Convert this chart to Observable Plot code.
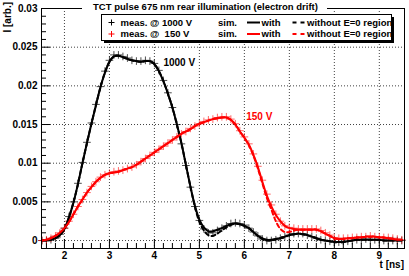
<!DOCTYPE html>
<html>
<head>
<meta charset="utf-8">
<script src="https://cdn.jsdelivr.net/npm/d3@7"></script>
<script src="https://cdn.jsdelivr.net/npm/@observablehq/plot@0.6"></script>
<style>
  html, body { margin: 0; padding: 0; background: #fff; }
  #chart { width: 409px; height: 276px; }
  svg text { font-family: "Liberation Sans", Arial, Helvetica, sans-serif; font-weight: bold; }
</style>
</head>
<body>
<div id="chart"></div>
<script>
// ---- data ----
const tNs = [1.5,1.6,1.7,1.8,1.9,2.0,2.1,2.2,2.3,2.4,2.5,2.6,2.7,2.8,2.9,3.0,3.1,3.2,3.3,3.4,3.5,3.6,3.7,3.8,3.9,4.0,4.1,4.2,4.3,4.4,4.5,4.6,4.7,4.8,4.9,5.0,5.1,5.2,5.3,5.4,5.5,5.6,5.7,5.8,5.9,6.0,6.1,6.2,6.3,6.4,6.5,6.6,6.7,6.8,6.9,7.0,7.1,7.2,7.3,7.4,7.5,7.6,7.7,7.8,7.9,8.0,8.1,8.2,8.3,8.4,8.5,8.6,8.7,8.8,8.9,9.0,9.1,9.2,9.3,9.4,9.5];

const meas1000 = [0.0000,0.0000,0.0001,0.0003,0.0008,0.0016,0.0031,0.0050,0.0074,0.0101,0.0127,0.0152,0.0176,0.0199,0.0219,0.0233,0.0240,0.0240,0.0238,0.0236,0.0233,0.0232,0.0232,0.0233,0.0232,0.0229,0.0220,0.0207,0.0191,0.0172,0.0150,0.0125,0.0097,0.0069,0.0044,0.0026,0.0015,0.0010,0.0010,0.0013,0.0016,0.0019,0.0022,0.0023,0.0022,0.0020,0.0016,0.0011,0.0006,0.0002,0.0000,0.0000,0.0001,0.0003,0.0005,0.0007,0.0009,0.0009,0.0009,0.0007,0.0005,0.0003,0.0001,0.0000,-0.0001,-0.0002,-0.0002,-0.0001,-0.0001,0.0000,0.0001,0.0001,0.0002,0.0001,0.0001,0.0001,0.0000,0.0000,0.0000,0.0000,0.0000];

const sim1000With = [0.0000,0.0000,0.0001,0.0003,0.0007,0.0015,0.0030,0.0049,0.0073,0.0100,0.0126,0.0151,0.0175,0.0198,0.0217,0.0231,0.0238,0.0239,0.0237,0.0235,0.0233,0.0232,0.0231,0.0232,0.0232,0.0228,0.0219,0.0206,0.0190,0.0172,0.0150,0.0126,0.0098,0.0070,0.0045,0.0027,0.0017,0.0012,0.0012,0.0014,0.0016,0.0019,0.0021,0.0022,0.0021,0.0019,0.0016,0.0011,0.0006,0.0003,0.0001,0.0001,0.0002,0.0003,0.0005,0.0007,0.0008,0.0009,0.0008,0.0007,0.0005,0.0003,0.0001,0.0000,-0.0001,-0.0002,-0.0002,-0.0002,-0.0001,0.0000,0.0001,0.0001,0.0001,0.0001,0.0001,0.0001,0.0000,0.0000,0.0000,0.0000,0.0000];

const sim1000Without = [0.0000,0.0000,0.0001,0.0003,0.0007,0.0015,0.0030,0.0049,0.0073,0.0100,0.0126,0.0151,0.0175,0.0198,0.0217,0.0231,0.0238,0.0239,0.0237,0.0235,0.0233,0.0232,0.0231,0.0232,0.0232,0.0228,0.0219,0.0206,0.0190,0.0172,0.0150,0.0126,0.0098,0.0070,0.0044,0.0024,0.0013,0.0007,0.0006,0.0009,0.0013,0.0017,0.0020,0.0022,0.0021,0.0019,0.0016,0.0011,0.0006,0.0002,0.0000,0.0000,0.0002,0.0003,0.0005,0.0007,0.0008,0.0009,0.0008,0.0007,0.0005,0.0003,0.0001,0.0000,-0.0001,-0.0002,-0.0002,-0.0002,-0.0001,0.0000,0.0001,0.0001,0.0001,0.0001,0.0001,0.0001,0.0000,0.0000,0.0000,0.0000,0.0000];

const meas150 = [0.0000,0.0001,0.0003,0.0006,0.0010,0.0016,0.0025,0.0034,0.0044,0.0053,0.0062,0.0070,0.0076,0.0082,0.0085,0.0087,0.0089,0.0090,0.0091,0.0093,0.0095,0.0098,0.0102,0.0106,0.0110,0.0114,0.0118,0.0122,0.0126,0.0130,0.0134,0.0138,0.0141,0.0145,0.0148,0.0151,0.0154,0.0156,0.0157,0.0159,0.0160,0.0160,0.0157,0.0151,0.0142,0.0134,0.0125,0.0112,0.0096,0.0078,0.0060,0.0046,0.0034,0.0025,0.0019,0.0017,0.0016,0.0015,0.0015,0.0015,0.0015,0.0015,0.0013,0.0010,0.0007,0.0004,0.0003,0.0003,0.0003,0.0004,0.0004,0.0005,0.0005,0.0006,0.0005,0.0005,0.0004,0.0004,0.0003,0.0002,0.0001];

const sim150With = [0.0000,0.0001,0.0003,0.0006,0.0010,0.0016,0.0024,0.0034,0.0044,0.0053,0.0062,0.0069,0.0076,0.0081,0.0085,0.0087,0.0088,0.0089,0.0091,0.0093,0.0095,0.0098,0.0102,0.0106,0.0110,0.0114,0.0118,0.0122,0.0126,0.0130,0.0134,0.0138,0.0141,0.0144,0.0148,0.0151,0.0153,0.0155,0.0157,0.0158,0.0159,0.0159,0.0156,0.0150,0.0141,0.0133,0.0124,0.0111,0.0095,0.0076,0.0058,0.0044,0.0033,0.0025,0.0019,0.0016,0.0015,0.0014,0.0014,0.0014,0.0014,0.0014,0.0012,0.0009,0.0006,0.0003,0.0002,0.0002,0.0003,0.0003,0.0004,0.0004,0.0005,0.0005,0.0005,0.0004,0.0004,0.0003,0.0002,0.0001,0.0001];

const sim150Without = [0.0000,0.0001,0.0003,0.0006,0.0010,0.0016,0.0024,0.0034,0.0044,0.0053,0.0062,0.0069,0.0076,0.0081,0.0085,0.0087,0.0088,0.0089,0.0091,0.0093,0.0095,0.0098,0.0102,0.0106,0.0110,0.0114,0.0118,0.0122,0.0126,0.0130,0.0134,0.0138,0.0141,0.0144,0.0148,0.0151,0.0153,0.0155,0.0157,0.0158,0.0159,0.0159,0.0156,0.0150,0.0141,0.0133,0.0123,0.0110,0.0093,0.0074,0.0055,0.0040,0.0025,0.0015,0.0011,0.0011,0.0013,0.0014,0.0014,0.0014,0.0014,0.0014,0.0012,0.0009,0.0006,0.0003,0.0002,0.0002,0.0003,0.0003,0.0004,0.0004,0.0005,0.0005,0.0005,0.0004,0.0004,0.0003,0.0002,0.0001,0.0001];

const xTicks = [2, 3, 4, 5, 6, 7, 8, 9];
const yTicks = [0, 0.005, 0.01, 0.015, 0.02, 0.025, 0.03];
const curveLabels = [
  {t: 4.20, v: 0.0230, text: "1000 V", color: "#000000"},
  {t: 6.04, v: 0.0160, text: "150 V", color: "#ff0000"}
];
const titleText = "TCT pulse 675 nm rear illumination (electron drift)";
const xTitle = "t [ns]";
const yTitle = "I [arb.]";
const legendRows = [
  {meas: "meas. @ 1000 V", color: "#000000"},
  {meas: "meas. @  150 V", color: "#ff0000"}
];

// ---- build ----
const W = 409, H = 276;
const mT = 8, mR = 5, mB = 28, mL = 41;
const frameW = W - mL - mR, frameH = H - mT - mB;

const rows = (ys) => tNs.map((t, i) => ({t, v: ys[i]}));
const xMinor = d3.range(1.6, 9.55, 0.2).filter(v => Math.abs(v - Math.round(v)) > 0.01);
const yMinor = d3.range(1, 30, 1).map(v => v / 1000).filter(v => Math.abs(v * 200 - Math.round(v * 200)) > 0.01);

const chart = Plot.plot({
  width: W, height: H,
  marginTop: mT, marginRight: mR, marginBottom: mB, marginLeft: mL,
  style: {fontFamily: "'Liberation Sans', Arial, sans-serif", fontSize: "9px", fontWeight: "bold", background: "#fff", overflow: "visible"},
  x: {domain: [1.49, 9.56]},
  y: {domain: [-0.00103, 0.03]},
  marks: [
    Plot.gridX(xTicks, {stroke: "#000", strokeOpacity: 0.75, strokeDasharray: "1,2"}),
    Plot.gridY(yTicks, {stroke: "#000", strokeOpacity: 0.75, strokeDasharray: "1,2"}),
    Plot.tickX(xMinor, {x: d => d, insetTop: frameH - 5, stroke: "#000"}),
    Plot.tickX(xTicks, {x: d => d, insetTop: frameH - 9, stroke: "#000"}),
    Plot.tickY(yMinor, {y: d => d, insetRight: frameW - 5, stroke: "#000"}),
    Plot.tickY(yTicks, {y: d => d, insetRight: frameW - 9, stroke: "#000"}),
    Plot.axisX({ticks: xTicks, tickSize: 0, tickPadding: 3, label: null, fontSize: 10}),
    Plot.axisY({ticks: yTicks, tickSize: 0, tickPadding: 4, label: null, fontSize: 10,
      tickFormat: d => String(+d.toFixed(3))}),
    // measurements
    Plot.dot(rows(meas1000), {x: "t", y: "v", symbol: "plus", r: 2.6, stroke: "#000", strokeWidth: 1, strokeOpacity: 0.7}),
    Plot.dot(rows(meas150), {x: "t", y: "v", symbol: "plus", r: 2.6, stroke: "#ff0000", strokeWidth: 1, strokeOpacity: 0.6}),
    // simulations
    Plot.line(rows(sim1000Without), {x: "t", y: "v", stroke: "#000", strokeWidth: 2, strokeDasharray: "4,3", curve: "catmull-rom"}),
    Plot.line(rows(sim150Without), {x: "t", y: "v", stroke: "#ff0000", strokeWidth: 2, strokeDasharray: "4,3", curve: "catmull-rom"}),
    Plot.line(rows(sim1000With), {x: "t", y: "v", stroke: "#000", strokeWidth: 2, curve: "catmull-rom"}),
    Plot.line(rows(sim150With), {x: "t", y: "v", stroke: "#ff0000", strokeWidth: 2, curve: "catmull-rom"}),
    Plot.text(curveLabels, {x: "t", y: "v", text: "text", fill: "color", textAnchor: "start", fontSize: 10}),
    Plot.frame({stroke: "#000", strokeWidth: 1})
  ]
});
document.getElementById("chart").appendChild(chart);

// ---- title, legend and axis titles (overlaid on the svg) ----
const svg = d3.select(chart);
const g = svg.append("g")
  .attr("font-family", "'Liberation Sans', Arial, sans-serif")
  .attr("font-weight", "bold")
  .attr("text-anchor", "start");

// title box
g.append("rect").attr("x", 82).attr("y", 0).attr("width", 245).attr("height", 14).attr("fill", "#fff");
g.append("text").attr("x", 205.5).attr("y", 10).attr("text-anchor", "middle").attr("font-size", 9.5).attr("fill", "#000").text(titleText);

// axis titles
g.append("text").attr("x", 404).attr("y", 268).attr("text-anchor", "end").attr("font-size", 10).attr("fill", "#000").text(xTitle);
g.append("text").attr("transform", "translate(11,2) rotate(-90)").attr("text-anchor", "end").attr("font-size", 10).attr("fill", "#000").text(yTitle);

// legend
const lg = g.append("g");
const fsL = 9.5;
lg.append("rect").attr("x", 104).attr("y", 17).attr("width", 290).attr("height", 26).attr("fill", "#000");
lg.append("rect").attr("x", 101.5).attr("y", 14.5).attr("width", 290).attr("height", 26).attr("fill", "#fff").attr("stroke", "#000").attr("stroke-width", 1);
legendRows.forEach((r, i) => {
  const cy = 22.5 + i * 11.5;
  lg.append("path").attr("d", `M${108.5},${cy}h6M${111.5},${cy - 3}v6`).attr("stroke", r.color).attr("stroke-width", 1);
  lg.append("text").attr("x", 120.5).attr("y", cy + 3.4).attr("text-anchor", "start").attr("font-size", fsL).attr("fill", "#000").style("white-space", "pre").text(r.meas);
  lg.append("text").attr("x", 218).attr("y", cy + 3.4).attr("text-anchor", "start").attr("font-size", fsL).attr("fill", "#000").text("sim.");
  lg.append("line").attr("x1", 247).attr("x2", 260).attr("y1", cy).attr("y2", cy).attr("stroke", r.color).attr("stroke-width", 2);
  lg.append("text").attr("x", 261.5).attr("y", cy + 3.4).attr("text-anchor", "start").attr("font-size", fsL).attr("fill", "#000").text("with");
  lg.append("line").attr("x1", 292.5).attr("x2", 304.5).attr("y1", cy).attr("y2", cy).attr("stroke", r.color).attr("stroke-width", 2).attr("stroke-dasharray", "4,4");
  lg.append("text").attr("x", 307).attr("y", cy + 3.4).attr("text-anchor", "start").attr("font-size", fsL).attr("fill", "#000").text("without E=0 region");
});
</script>
</body>
</html>
